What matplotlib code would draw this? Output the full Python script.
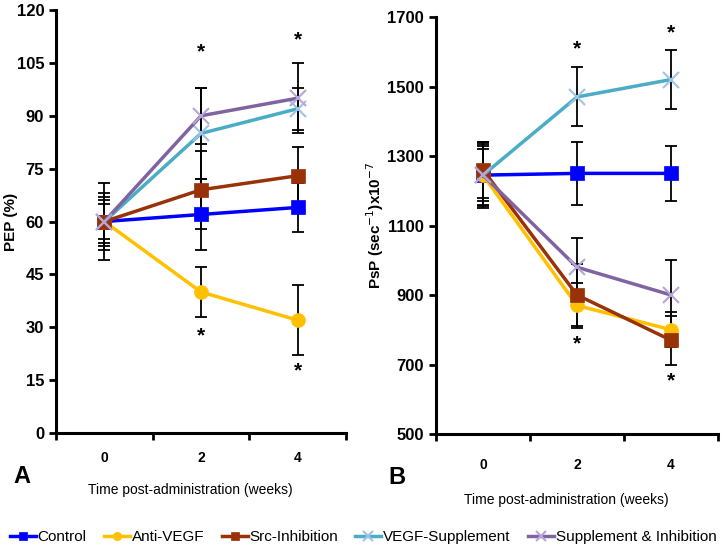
import matplotlib
matplotlib.use("Agg")
import matplotlib.pyplot as plt
from matplotlib.ticker import FixedLocator, NullFormatter, FixedFormatter

plt.rcParams['font.family'] = ['Liberation Sans', 'DejaVu Sans']

weeks = ["0", "2", "4"]
series = ["Control", "Anti-VEGF", "Src-Inhibition", "VEGF-Supplement", "Supplement & Inhibition"]
colors = ["#0000FF", "#FFC000", "#9A3209", "#4BACC6", "#8064A2"]
mcolors = ["#0000FF", "#FFC000", "#9A3209", "#9DC3E6", "#B4A7D6"]
markers = ["s", "o", "s", "x", "x"]

pep_vals = [
    [60, 62, 64],
    [60, 40, 32],
    [60, 69, 73],
    [60, 85, 92],
    [60, 90, 95],
]
pep_err = [
    [7, 10, 7],
    [11, 7, 10],
    [8, 11, 8],
    [6, 13, 6],
    [5, 8, 10],
]
psp_vals = [
    [1245, 1250, 1250],
    [1245, 870, 800],
    [1260, 900, 770],
    [1245, 1470, 1520],
    [1245, 980, 900],
]
psp_err = [
    [95, 90, 80],
    [90, 65, 50],
    [80, 90, 70],
    [75, 85, 85],
    [85, 85, 100],
]
pep_stars_top = [(1, 108), (2, 111.5)]
pep_stars_bot = [(1, 27.5), (2, 17.5)]
psp_stars_top = [(1, 1608), (2, 1655)]
psp_stars_bot = [(1, 760), (2, 652)]

fig = plt.figure(figsize=(7.22, 5.54), dpi=100)
axA = fig.add_axes([0.0776, 0.2184, 0.4017, 0.7635])
axB = fig.add_axes([0.6039, 0.2166, 0.3906, 0.7527])

xpos = [0.5, 1.5, 2.5]

def style(ax, ylim, yticks, pad):
    ax.set_xlim(0, 3)
    ax.set_ylim(*ylim)
    for s in ["top", "right"]:
        ax.spines[s].set_visible(False)
    for s in ["left", "bottom"]:
        ax.spines[s].set_linewidth(2.2)
    ax.xaxis.set_major_locator(FixedLocator([0, 1, 2, 3]))
    ax.xaxis.set_major_formatter(NullFormatter())
    ax.xaxis.set_minor_locator(FixedLocator(xpos))
    ax.xaxis.set_minor_formatter(FixedFormatter(weeks))
    ax.tick_params(axis='x', which='major', direction='out', length=5, width=2)
    ax.tick_params(axis='x', which='minor', length=0, pad=pad, labelsize=10)
    ax.set_yticks(yticks)
    ax.tick_params(axis='y', direction='out', length=5, width=2, labelsize=12)
    for lab in ax.get_yticklabels() + ax.get_xticklabels(minor=True):
        lab.set_fontweight('bold')

def draw(ax, vals, errs):
    handles = []
    for v, e in zip(vals, errs):
        ax.errorbar(xpos, v, yerr=e, fmt='none', ecolor='black', elinewidth=1.3,
                    capsize=4, capthick=1.3, zorder=2)
    for v, c, mc, m, name in zip(vals, colors, mcolors, markers, series):
        ms = 10 if m != 'x' else 11
        h, = ax.plot(xpos, v, color=c, lw=2.5, marker=m, markersize=ms,
                     markerfacecolor=mc, markeredgecolor=mc,
                     markeredgewidth=1.5 if m == 'x' else 0.5,
                     label=name, zorder=3)
        handles.append(h)
    return handles

handles = draw(axA, pep_vals, pep_err)
draw(axB, psp_vals, psp_err)
style(axA, (0, 120), range(0, 121, 15), 13)
style(axB, (500, 1700), range(500, 1701, 200), 17)

for ax, tops, bots in [(axA, pep_stars_top, pep_stars_bot), (axB, psp_stars_top, psp_stars_bot)]:
    for i, y in tops + bots:
        ax.text(xpos[i], y, "*", ha='center', va='center', fontsize=15, fontweight='bold')

axA.set_ylabel("PEP (%)", fontsize=11, fontweight='bold')
axA.yaxis.set_label_coords(-0.13, 0.5)
axB.set_ylabel("PsP (sec$^{-1}$)x10$^{-7}$", fontsize=11, fontweight='bold')
axB.yaxis.set_label_coords(-0.178, 0.5)

fig.text(0.263, 0.116, "Time post-administration (weeks)", ha='center', va='center', fontsize=10)
fig.text(0.785, 0.097, "Time post-administration (weeks)", ha='center', va='center', fontsize=10)
fig.text(0.030, 0.140, "A", ha='center', va='center', fontsize=17, fontweight='bold')
fig.text(0.550, 0.138, "B", ha='center', va='center', fontsize=17, fontweight='bold')

fig.legend(handles=handles, loc='center', bbox_to_anchor=(0.503, 0.030), ncol=5, frameon=False,
           prop={'size': 11}, handlelength=1.7,
           handletextpad=0.1, columnspacing=1.15, markerscale=0.6)

fig.savefig("out.png", dpi=100)
